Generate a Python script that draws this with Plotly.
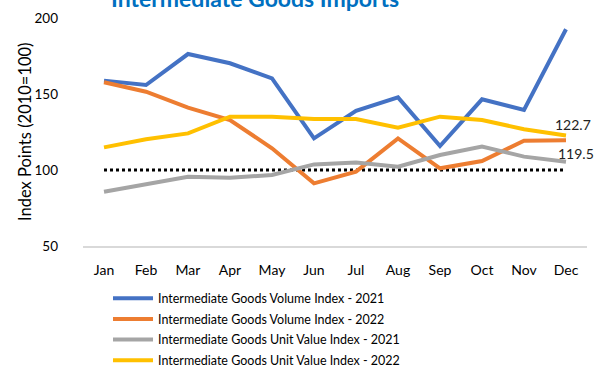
import plotly.graph_objects as go

months = ["Jan", "Feb", "Mar", "Apr", "May", "Jun", "Jul", "Aug", "Sep", "Oct", "Nov", "Dec"]
vol_2021 = [158.8, 155.9, 176.3, 170.2, 160.3, 120.8, 139.0, 147.8, 115.8, 146.5, 139.5, 192.6]
vol_2022 = [157.7, 151.5, 141.0, 132.9, 114.3, 91.2, 98.9, 120.8, 101.1, 105.9, 119.3, 119.5]
uv_2021 = [85.7, 90.8, 95.6, 94.9, 96.7, 103.7, 105.0, 102.2, 109.9, 115.4, 108.8, 105.5]
uv_2022 = [114.9, 120.2, 124.1, 135.1, 135.1, 133.6, 133.6, 127.8, 135.1, 132.9, 126.8, 122.7]
baseline = [100] * 12

names = [
    "Intermediate Goods Volume Index - 2021",
    "Intermediate Goods Volume Index - 2022",
    "Intermediate Goods Unit Value Index - 2021",
    "Intermediate Goods Unit Value Index - 2022",
]
colors = ["#4472C4", "#ED7D31", "#A5A5A5", "#FFC000"]
series = [vol_2021, vol_2022, uv_2021, uv_2022]

fig = go.Figure()
fig.add_trace(go.Scatter(x=months, y=baseline, mode="lines", showlegend=False,
                         line=dict(color="black", width=3, dash="dot"), hoverinfo="skip"))
for i, (n, c, s) in enumerate(zip(names, colors, series)):
    fig.add_trace(go.Scatter(x=months, y=s, mode="lines", name=n, legendgroup=f"g{i}",
                             line=dict(color=c, width=4)))

fig.add_annotation(x=months[-1], y=uv_2022[-1], text=f"{uv_2022[-1]}", showarrow=False,
                   xshift=7, yshift=11, font=dict(size=14, color="#222"))
fig.add_annotation(x=months[-1], y=vol_2022[-1], text=f"{vol_2022[-1]}", showarrow=False,
                   xshift=10, yshift=-13, font=dict(size=14, color="#222"))

fig.add_annotation(x=(255 - 83) / (595 - 83 - 8), xref="paper", y=1.0, yref="paper",
                   yanchor="middle", yshift=20,
                   text="<b>Intermediate Goods Imports</b>", showarrow=False,
                   font=dict(size=23, color="#0070C0"))

# y-axis title placed as rotated annotation
fig.add_annotation(x=(25 - 83) / 504, xref="paper", y=(246 - 132) / 228, yref="paper",
                   text="Index Points (2010=100)", textangle=-90, showarrow=False,
                   xanchor="center", yanchor="middle", font=dict(size=16.5, color="black"))

fig.update_layout(
    width=595, height=365,
    margin=dict(l=83, r=8, t=18, b=119, autoexpand=False),
    paper_bgcolor="white", plot_bgcolor="white",
    font=dict(family="Lato, Open Sans, sans-serif", size=14, color="black"),
    legend=dict(x=(108 - 83) / 504, y=-0.165, xanchor="left", yanchor="top",
                font=dict(size=12.5), tracegroupgap=1.4, itemwidth=40,
                bgcolor="rgba(0,0,0,0)"),
    showlegend=True,
)

fig.update_xaxes(showgrid=False, showline=True, linecolor="#D9D9D9", linewidth=1.5,
                 ticks="", tickfont=dict(size=14), range=[-0.5, 11.5], ticklabelstandoff=10)
fig.update_yaxes(range=[50, 200], dtick=50, showgrid=False, zeroline=False,
                 showline=False, ticks="", tickfont=dict(size=13.5), ticklabelstandoff=24)

fig.write_html("out.html")
